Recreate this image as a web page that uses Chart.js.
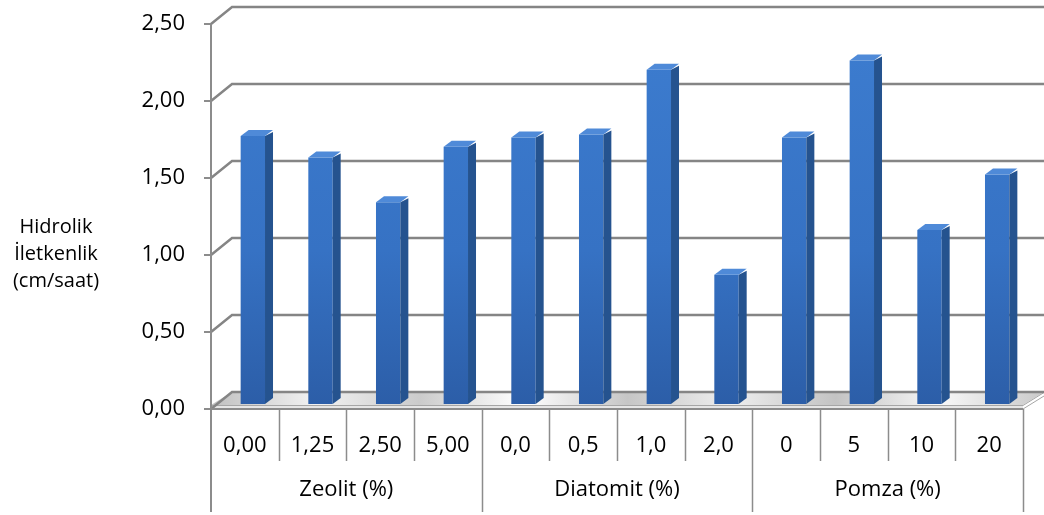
<!DOCTYPE html>
<html>
<head>
<meta charset="utf-8">
<script src="https://cdn.jsdelivr.net/npm/chart.js@4/dist/chart.umd.min.js"></script>
<style>
  html, body { margin: 0; padding: 0; background: #fff; }
  #wrap { width: 1044px; height: 515px; }
</style>
</head>
<body>
<div id="wrap"><canvas id="hydroChart"></canvas></div>
<script>
// data
const categories = ["0,00", "1,25", "2,50", "5,00", "0,0", "0,5", "1,0", "2,0", "0", "5", "10", "20"];
const groups = ["Zeolit (%)", "Diatomit (%)", "Pomza (%)"];
const groupSizes = [4, 4, 4];
const conductivity = [1.74, 1.6, 1.31, 1.67, 1.73, 1.75, 2.17, 0.84, 1.73, 2.23, 1.13, 1.49];
const yTicks = [0, 0.5, 1, 1.5, 2, 2.5];
const yTitle = ["Hidrolik", "İletkenlik", "(cm/saat)"];

const FONT = "'Open Sans', 'Noto Sans', sans-serif";
const wallDepth = { x: 21, y: -17 };
const barShift = { x: 8, y: -5 };
const barDepth = { x: 8, y: -6 };

const fmt = (v) => v.toFixed(2).replace(".", ",");

// 3D walls, floor and bar sides
const fake3d = {
  id: "fake3d",
  beforeDatasetsDraw(chart) {
    const { ctx, chartArea: a, scales } = chart;
    const y = scales.y;
    ctx.save();

    // floor slab
    const fy = a.bottom - 4;
    const g = ctx.createLinearGradient(a.left, 0, a.right + wallDepth.x, 0);
    const stops = ["#c0c0c0", "#f2f2f2", "#cbcbcb", "#ffffff", "#c6c6c6", "#eeeeee", "#c3c3c3", "#f8f8f8", "#c9c9c9"];
    stops.forEach((c, i) => g.addColorStop(i / (stops.length - 1), c));
    ctx.fillStyle = g;
    ctx.beginPath();
    ctx.moveTo(a.left, fy);
    ctx.lineTo(a.right, fy);
    ctx.lineTo(a.right + wallDepth.x, a.bottom + wallDepth.y);
    ctx.lineTo(a.left + wallDepth.x, a.bottom + wallDepth.y);
    ctx.closePath();
    ctx.fill();
    ctx.fillStyle = "#e6e6e6";
    ctx.fillRect(a.left, fy, a.right - a.left, 4);
    ctx.strokeStyle = "#a6a6a6";
    ctx.lineWidth = 1;
    ctx.beginPath();
    ctx.moveTo(a.left, fy + 0.5);
    ctx.lineTo(a.right, fy + 0.5);
    ctx.lineTo(a.right + wallDepth.x, a.bottom + wallDepth.y + 0.5);
    ctx.moveTo(a.right, a.bottom);
    ctx.lineTo(a.right + wallDepth.x, a.bottom + wallDepth.y + 4);
    ctx.stroke();

    // back wall gridlines with the left wall diagonals
    ctx.strokeStyle = "#858585";
    ctx.lineWidth = 2.5;
    yTicks.forEach((v) => {
      const py = y.getPixelForValue(v);
      ctx.beginPath();
      ctx.moveTo(a.left, py);
      ctx.lineTo(a.left + wallDepth.x, py + wallDepth.y);
      ctx.lineTo(a.right + wallDepth.x, py + wallDepth.y);
      ctx.stroke();
    });

    // front axis, tick marks, category dividers
    ctx.strokeStyle = "#8c8c8c";
    ctx.lineWidth = 2;
    ctx.beginPath();
    ctx.moveTo(a.left, a.top);
    ctx.lineTo(a.left, 512);
    yTicks.forEach((v) => {
      const py = y.getPixelForValue(v);
      ctx.moveTo(a.left - 7, py);
      ctx.lineTo(a.left, py);
    });
    ctx.moveTo(a.left, a.bottom);
    ctx.lineTo(a.right, a.bottom);
    ctx.stroke();

    const step = (a.right - a.left) / categories.length;
    const groupEdges = [0];
    groupSizes.forEach((n, i) => groupEdges.push(groupEdges[i] + n));
    ctx.lineWidth = 1.5;
    ctx.beginPath();
    for (let k = 1; k <= categories.length; k++) {
      const px = Math.round(a.left + k * step) + 0.5;
      ctx.moveTo(px, a.bottom);
      ctx.lineTo(px, groupEdges.includes(k) ? 512 : 461);
    }
    ctx.stroke();
    ctx.restore();

    ctx.save();
    ctx.translate(barShift.x, barShift.y);
  },
  afterDatasetsDraw(chart) {
    const { ctx } = chart;
    const meta = chart.getDatasetMeta(0);
    meta.data.forEach((bar) => {
      const { x, y, base, width } = bar.getProps(["x", "y", "base", "width"], true);
      const x1 = x - width / 2;
      const x2 = x + width / 2;
      ctx.fillStyle = "#25538f";
      ctx.beginPath();
      ctx.moveTo(x2, y);
      ctx.lineTo(x2 + barDepth.x, y + barDepth.y + 2);
      ctx.lineTo(x2 + barDepth.x, base + barDepth.y);
      ctx.lineTo(x2, base);
      ctx.closePath();
      ctx.fill();
      ctx.fillStyle = "#4f8ad8";
      ctx.beginPath();
      ctx.moveTo(x1, y);
      ctx.lineTo(x2, y);
      ctx.lineTo(x2 + barDepth.x, y + barDepth.y);
      ctx.lineTo(x1 + barDepth.x, y + barDepth.y);
      ctx.closePath();
      ctx.fill();
    });
    ctx.restore();
  },
  afterDraw(chart) {
    const { ctx, chartArea: a } = chart;
    const x = chart.scales.x;
    ctx.save();
    ctx.fillStyle = "#000";
    ctx.textAlign = "center";
    ctx.textBaseline = "middle";
    ctx.font = "22px " + FONT;
    let start = 0;
    groupSizes.forEach((n, i) => {
      const left = x.getPixelForValue(start) - (a.right - a.left) / categories.length / 2;
      const right = x.getPixelForValue(start + n - 1) + (a.right - a.left) / categories.length / 2;
      ctx.fillText(groups[i], (left + right) / 2, 490);
      start += n;
    });
    ctx.font = "20px " + FONT;
    yTitle.forEach((t, i) => ctx.fillText(t, 56, 227 + i * 27));
    ctx.restore();
  },
};

new Chart(document.getElementById("hydroChart"), {
  type: "bar",
  data: {
    labels: categories,
    datasets: [
      {
        label: "Hidrolik İletkenlik",
        data: conductivity,
        backgroundColor: (c) => {
          const area = c.chart.chartArea;
          if (!area) return "#3874c6";
          const g = c.chart.ctx.createLinearGradient(0, area.top, 0, area.bottom);
          g.addColorStop(0, "#3d7dd0");
          g.addColorStop(0.6, "#3672c4");
          g.addColorStop(1, "#2c5ea8");
          return g;
        },
        borderWidth: 0,
        barPercentage: 0.36,
        categoryPercentage: 1,
      },
    ],
  },
  options: {
    responsive: true,
    maintainAspectRatio: false,
    animation: false,
    layout: { padding: { top: 24, right: 21, left: 0, bottom: 0 } },
    plugins: { legend: { display: false }, tooltip: { enabled: false } },
    scales: {
      x: {
        grid: { display: false, drawTicks: false },
        border: { display: false },
        ticks: { font: { size: 22, family: FONT }, color: "#000", padding: 24, maxRotation: 0, autoSkip: false },
        afterFit: (s) => { s.height = 106; },
      },
      y: {
        min: 0,
        max: 2.5,
        grid: { display: false, drawTicks: false },
        border: { display: false },
        ticks: {
          stepSize: 0.5,
          font: { size: 22, family: FONT },
          color: "#000",
          padding: 26,
          callback: (v) => fmt(v),
        },
        afterFit: (s) => {
          s.width = 211;
          s.paddingTop = 0;
          s.paddingBottom = 0;
        },
      },
    },
  },
  plugins: [fake3d],
});
</script>
</body>
</html>
